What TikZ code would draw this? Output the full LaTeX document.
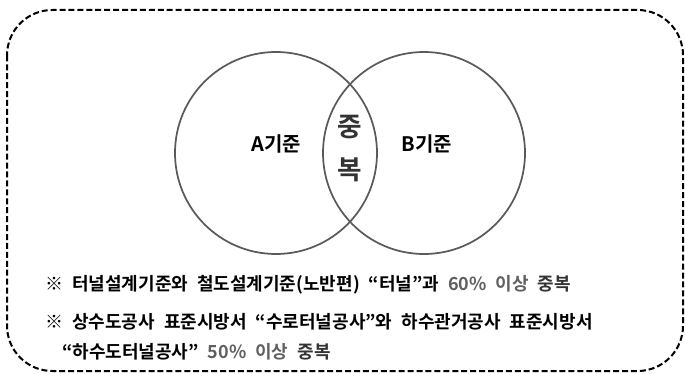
\documentclass[tikz,border=0pt]{standalone}
\usepackage{fontspec}
\setmainfont{Noto Sans CJK KR}[BoldFont={* Bold}]
\definecolor{circ}{HTML}{5A5A5A}
\definecolor{grayt}{HTML}{606060}
\definecolor{darkt}{HTML}{333333}
\newcommand\notesetup{\fontsize{13.5}{16}\selectfont\bfseries\spaceskip=0.5em plus 0.1em minus 0.1em\relax}
\begin{document}
\begin{tikzpicture}[x=0.75pt,y=-0.75pt,
  frame/.style={draw=black,line width=1.5pt,dash pattern=on 4.5pt off 2.2pt,rounded corners=34pt},
  set/.style={draw=circ,line width=1.3pt},
  lab/.style={font=\fontsize{15}{18}\selectfont\bfseries,text=black,inner sep=0pt},
  big/.style={font=\fontsize{20}{24}\selectfont\bfseries,text=darkt,inner sep=0pt},
  note/.style={font=\notesetup,text=black,anchor=west,inner sep=0pt}]
\useasboundingbox (0,0) rectangle (685,374);
\draw[frame] (7,10) rectangle (683,371);
\node[set,circle,minimum size=202*0.75pt,inner sep=0pt] (A) at (276,153) {};
\node[set,circle,minimum size=202*0.75pt,inner sep=0pt] (B) at (424,153) {};
\node[lab] (ta) at (276,144) {A기준};
\node[lab] (tb) at (427,144) {B기준};
\node[big] (c1) at (350,127) {중};
\node[big] (c2) at (350,170) {복};
\node[note] (n1) at (45,285) {※ 터널설계기준와 철도설계기준(노반편) “터널”과 \textcolor{grayt}{60\% 이상} \textcolor{darkt}{중복}};
\node[note] (n2) at (45,322) {※ 상수도공사 표준시방서 “수로터널공사”와 하수관거공사 표준시방서};
\node[note] (n3) at (62,352) {“하수도터널공사” \textcolor{grayt}{50\% 이상} \textcolor{darkt}{중복}};
\end{tikzpicture}
\end{document}
